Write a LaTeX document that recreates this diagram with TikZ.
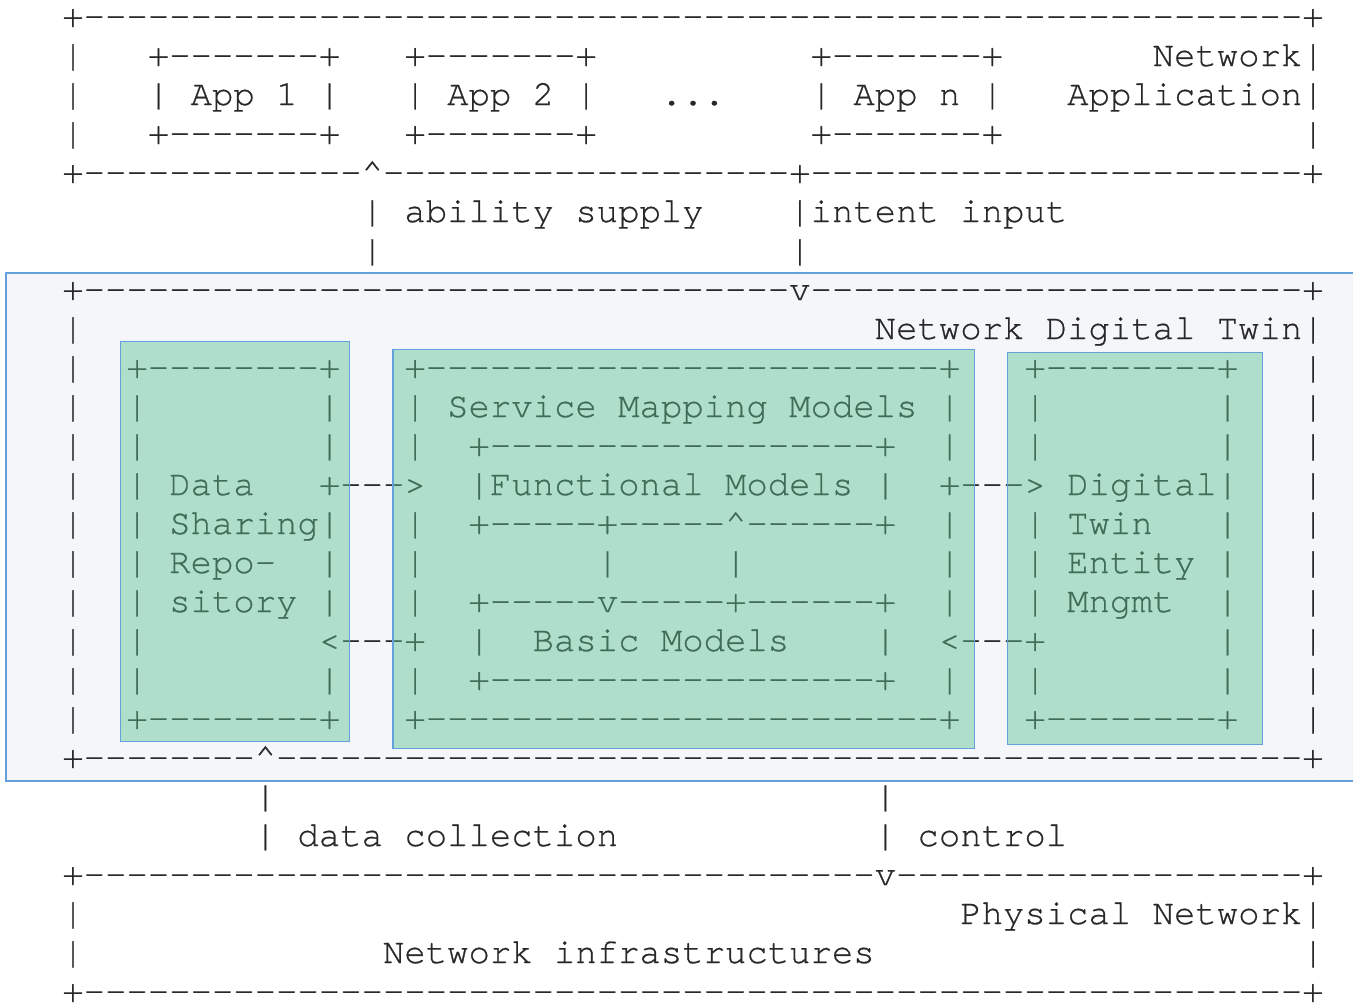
\documentclass[tikz,border=0pt]{standalone}
\usepackage{fontspec}
\newfontfamily\asciifont[FakeBold=0.6]{TeX Gyre Cursor}
\usepackage{tikz}
\definecolor{txtgray}{RGB}{40,40,40}
\definecolor{ndtfill}{RGB}{244,246,250}
\definecolor{boxgreen}{RGB}{91,193,146}
\definecolor{boxline}{RGB}{100,160,220}
\newcommand{\cw}{21.38}% width of one character
\newcommand{\lh}{39}% height of one line
\newcommand{\xo}{62.3}
\newcommand{\yo}{27}
\newcommand{\dashes}[1]{\foreach\dd in {1,...,#1}{-}}
\newcommand{\asc}[4]{\node[ascii] (#1) at ({\xo+\cw*#2},{\yo+\lh*#3}) {#4};}
\tikzset{
  ascii/.style={anchor=base west,inner sep=0pt,outer sep=0pt,text=txtgray,
    font=\asciifont\fontsize{20.28}{24}\selectfont},
  greenbox/.style={fill=boxgreen,fill opacity=0.45,draw=boxline,line width=0.9pt},
  ndtbox/.style={fill=ndtfill,draw=boxline,line width=0.9pt}
}

\begin{document}
\begin{tikzpicture}[x=0.02cm,y=-0.02cm]
  \useasboundingbox (0,0) rectangle (1353,1005);

  \draw[ndtbox] (6,273) rectangle (1380,781); % network digital twin layer

  % outer frames
  \foreach \r in {1,2,3,8,9,...,18,23,24}{
    \asc{lbar\r}{0}{\r}{|}
    \asc{rbar\r}{58}{\r}{|}
  }

  % network application
  \asc{appTop}{0}{0}{+\dashes{57}+}
  \foreach \c/\n in {4/1,16/2,35/n}{
    \asc{appA\n}{\c}{1}{+\dashes{7}+}
    \asc{app\n}{\c}{2}{| App \n\ |}
    \asc{appB\n}{\c}{3}{+\dashes{7}+}
  }
  \asc{dots}{28}{2}{...}
  \asc{naLabelA}{51}{1}{Network}
  \asc{naLabelB}{47}{2}{Application}
  \asc{appBot}{0}{4}{+\dashes{13}\textasciicircum\dashes{19}+\dashes{23}+}

  % between application and twin
  \asc{supply}{14}{5}{| ability supply}
  \asc{supplyBar}{14}{6}{|}
  \asc{intent}{34}{5}{|intent input}
  \asc{intentBar}{34}{6}{|}

  % network digital twin
  \asc{ndtTop}{0}{7}{+\dashes{33}v\dashes{23}+}
  \asc{ndtLabel}{38}{8}{Network Digital Twin}
  \asc{repoTop}{3}{9}{+\dashes{8}+}
  \asc{smmTop}{16}{9}{+\dashes{24}+}
  \asc{dteTop}{45}{9}{+\dashes{8}+}
  \foreach \r in {10,...,17}{
    \asc{repoL\r}{3}{\r}{|}
    \asc{dteR\r}{54}{\r}{|}
  }
  \foreach \r in {10,11,13,14,15,17}{
    \asc{repoR\r}{12}{\r}{|}
    \asc{smmL\r}{16}{\r}{|}
    \asc{smmR\r}{41}{\r}{|}
    \asc{dteL\r}{45}{\r}{|}
  }
  \asc{smmLabel}{18}{10}{Service Mapping Models}
  \asc{fmTop}{19}{11}{+\dashes{18}+}
  \asc{fm}{19}{12}{|Functional Models |}
  \asc{fmBot}{19}{13}{+\dashes{5}+\dashes{5}\textasciicircum\dashes{6}+}
  \asc{linkA}{25}{14}{|}
  \asc{linkB}{31}{14}{|}
  \asc{bmTop}{19}{15}{+\dashes{5}v\dashes{5}+\dashes{6}+}
  \asc{bmL}{19}{16}{|}
  \asc{bm}{22}{16}{Basic Models}
  \asc{bmR}{38}{16}{|}
  \asc{bmBot}{19}{17}{+\dashes{18}+}
  \foreach \r/\t in {12/Data,13/Sharing,14/Repo-,15/sitory}{
    \asc{repo\r}{5}{\r}{\t}
  }
  \foreach \r/\t in {12/Digital,13/Twin,14/Entity,15/Mngmt}{
    \asc{dte\r}{47}{\r}{\t}
  }
  \asc{toSmm}{12}{12}{+--->}
  \asc{toRepo}{12}{16}{<---+}
  \asc{toDte}{41}{12}{+--->}
  \asc{toSmmB}{41}{16}{<---+}
  \asc{repoBot}{3}{18}{+\dashes{8}+}
  \asc{smmBot}{16}{18}{+\dashes{24}+}
  \asc{dteBot}{45}{18}{+\dashes{8}+}
  \asc{ndtBot}{0}{19}{+\dashes{8}\textasciicircum\dashes{48}+}

  % between twin and physical network
  \asc{collectBar}{9}{20}{|}
  \asc{collect}{9}{21}{| data collection}
  \asc{controlBar}{38}{20}{|}
  \asc{control}{38}{21}{| control}

  % physical network
  \asc{pnTop}{0}{22}{+\dashes{37}v\dashes{19}+}
  \asc{pnLabel}{42}{23}{Physical Network}
  \asc{infra}{15}{24}{Network infrastructures}
  \asc{pnBot}{0}{25}{+\dashes{57}+}

  % highlighted blocks
  \draw[greenbox] (120.5,341.5) rectangle (349.5,741.5); % repository
  \draw[greenbox] (393,349.5) rectangle (974.5,748.5); % mapping models
  \draw[greenbox] (1007.5,352.5) rectangle (1262.5,744.5); % entity mngmt

\end{tikzpicture}
\end{document}
